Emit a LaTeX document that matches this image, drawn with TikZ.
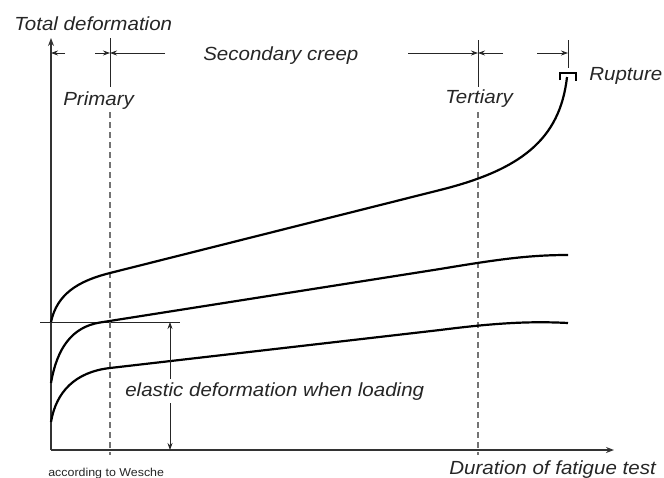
\documentclass[tikz,border=0pt]{standalone}
\usepackage{fontspec}
\setmainfont{Liberation Sans}[FakeStretch=1.08]
\usepackage{tikz}
\usetikzlibrary{arrows,arrows.meta,calc}

\begin{document}
\begin{tikzpicture}[x=1pt,y=-1pt,>={Stealth[length=7pt,width=5pt]},semithick]
  \tikzstyle{txt}=[font=\fontsize{19}{22}\selectfont\itshape,inner sep=0pt,anchor=base west,text=black!85]
  \tikzstyle{axisline}=[line width=1.5pt,black!80]
  \tikzstyle{dim}=[line width=0.8pt,black!85]
  \tikzstyle{phase}=[line width=1.2pt,black!55,dash pattern=on 6pt off 4pt]
  \tikzstyle{creep}=[line width=2.2pt,black]

  \useasboundingbox (0,0) rectangle (664,477);

  \coordinate (O) at (51,450);
  \coordinate (Y) at (51,38);
  \coordinate (X) at (614,450);
  \draw[axisline,-{Stealth[length=8pt,width=6pt]}] (O) -- (Y);
  \draw[axisline,-{Stealth[length=8pt,width=6pt]}] (O) -- (X);
  \draw[dim] (40,322) -- (180,322);

  \coordinate (p0) at (51,53);
  \coordinate (p1) at (110,53);
  \coordinate (p2) at (478,53);
  \coordinate (p3) at (568,53);
  \draw[dim,->] ($(p0)+(14,0)$) -- (p0);
  \draw[dim,->] ($(p1)+(-15,0)$) -- (p1);
  \draw[dim,->] ($(p1)+(55,0)$) -- (p1);
  \draw[dim,->] ($(p2)+(-70,0)$) -- (p2);
  \draw[dim,->] ($(p2)+(25,0)$) -- (p2);
  \draw[dim,->] ($(p3)+(-31,0)$) -- (p3);
  \draw[dim] ($(p1)+(0,-15)$) -- ($(p1)+(0,34)$);
  \draw[dim] ($(p2)+(0,-13)$) -- ($(p2)+(0,34)$);
  \draw[dim] ($(p3)+(0,-13)$) -- ($(p3)+(0,15)$);

  \draw[phase] (110,112) -- (110,455);
  \draw[phase] (478,112) -- (478,455);

  \draw[creep] (51,322) .. controls (57,294) and (78,281) .. (110,273)
    -- (440,190) .. controls (520,170) and (560,140) .. (567,77);
  \draw[creep] (560,80) -- (560,73) -- (576,73) -- (576,81);
  \draw[creep] (51,383) .. controls (57,348) and (72,327) .. (100,322.5)
    -- (440,269) .. controls (500,259) and (530,255) .. (568,255);
  \draw[creep] (51,422) .. controls (56,392) and (75,372) .. (110,368)
    -- (440,330) .. controls (495,323) and (530,321) .. (568,323);

  \coordinate (e1) at (170,322);
  \coordinate (e2) at (170,450);
  \draw[dim,<->] (e1) -- (e2);

  \node[txt] (total) at (14,30) {Total deformation};
  \node[txt] (secondary) at (203,60) {Secondary creep};
  \node[txt] (primary) at (63,105) {Primary};
  \node[txt] (tertiary) at (445,103) {Tertiary};
  \node[txt] (rupture) at (589,80) {Rupture};
  \node[txt,fill=white,inner sep=3pt] (elastic) at (122,396) {elastic deformation when loading};
  \node[txt] (duration) at (449,474) {Duration of fatigue test};
  \node[txt,font=\fontsize{11.5}{13}\selectfont] (source) at (48,476) {according to Wesche};
\end{tikzpicture}
\end{document}
